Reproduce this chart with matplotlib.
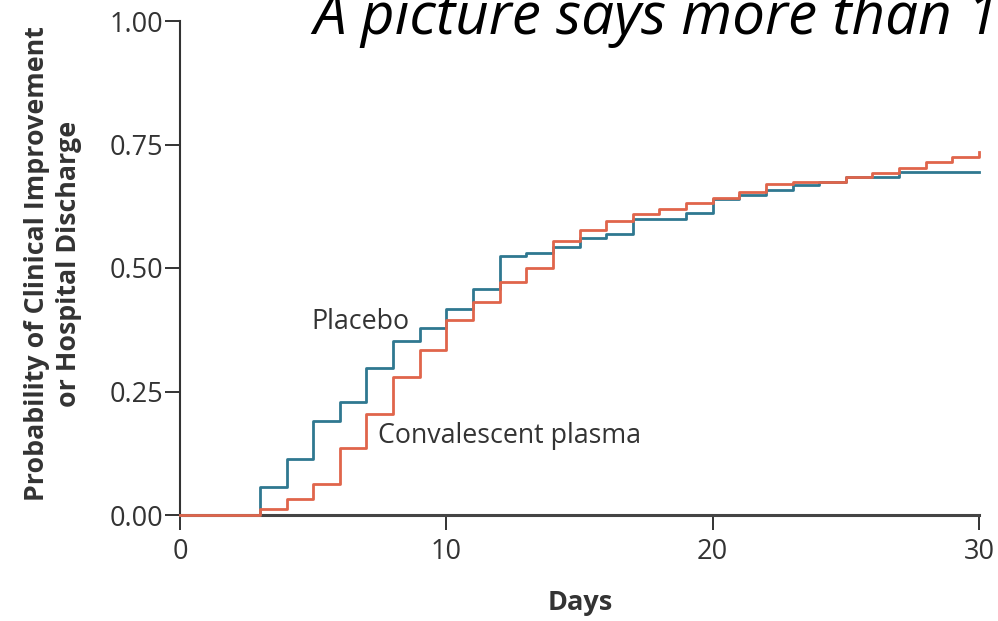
import matplotlib
matplotlib.use("Agg")
import matplotlib.pyplot as plt

# Kaplan-Meier style cumulative probability by day
days = list(range(0, 31))
placebo = [0, 0, 0, 0.057, 0.113, 0.190, 0.229, 0.297, 0.352, 0.379, 0.416,
           0.457, 0.524, 0.531, 0.542, 0.560, 0.569, 0.600, 0.600, 0.611, 0.639,
           0.648, 0.658, 0.669, 0.675, 0.685, 0.685, 0.694, 0.694, 0.694, 0.694]
plasma = [0, 0, 0, 0.012, 0.032, 0.062, 0.136, 0.205, 0.280, 0.335, 0.395,
          0.431, 0.472, 0.499, 0.555, 0.577, 0.596, 0.609, 0.619, 0.632, 0.642,
          0.654, 0.670, 0.675, 0.675, 0.685, 0.693, 0.703, 0.715, 0.725, 0.735]
x_ticks = [0, 10, 20, 30]
y_ticks = [0.0, 0.25, 0.5, 0.75, 1.0]
y_ticklabels = ["0.00", "0.25", "0.50", "0.75", "1.00"]

W, H = 998, 621
fig = plt.figure(figsize=(W / 100, H / 100), dpi=100)
ax = fig.add_axes([180 / W, 1 - 515 / H, (979 - 180) / W, (515 - 21) / H])

blue = "#2f7890"
red = "#e0654b"
ink = "#333333"
font = "Open Sans"

ax.step(days, placebo, where="post", color=blue, lw=2.0, clip_on=False, zorder=4)
ax.step(days, plasma, where="post", color=red, lw=2.0, clip_on=False, zorder=5)

ax.set_xlim(0, 30)
ax.set_ylim(0, 1)
ax.set_xticks(x_ticks)
ax.set_yticks(y_ticks)
ax.set_yticklabels(y_ticklabels)

for side in ("top", "right"):
    ax.spines[side].set_visible(False)
ax.spines["left"].set_color(ink)
ax.spines["left"].set_linewidth(1.5)
ax.spines["bottom"].set_color("#444444")
ax.spines["bottom"].set_linewidth(2.2)

ax.tick_params(axis="both", direction="out", length=10.8, width=1.4,
               color=ink, labelcolor=ink, labelsize=19.5)
ax.tick_params(axis="y", pad=1.5)
ax.tick_params(axis="x", pad=6)

for lab in ax.get_xticklabels() + ax.get_yticklabels():
    lab.set_fontfamily(font)

fig.text(580 / W, 1 - 603 / H, "Days", fontsize=19.5, fontweight="bold",
         fontfamily=font, color=ink, ha="center", va="center")
fig.text(53 / W, 1 - 264 / H,
         "Probability of Clinical Improvement\nor Hospital Discharge",
         fontsize=19.3, fontweight="bold", fontfamily=font, color=ink,
         rotation=90, ha="center", va="center", linespacing=1.3,
         multialignment="center")

ax.text(4.95, 0.39, "Placebo", fontsize=19.3, fontfamily=font, color=ink,
        ha="left", va="center")
ax.text(7.42, 0.16, "Convalescent plasma", fontsize=19.3, fontfamily=font,
        color=ink, ha="left", va="center")

fig.text(313 / W, 1 - 34 / H, "A picture says more than 1000 words",
         fontsize=42, fontstyle="italic", fontfamily=font,
         color="black", ha="left", va="baseline")

fig.savefig("out.png", dpi=100, facecolor="white")
